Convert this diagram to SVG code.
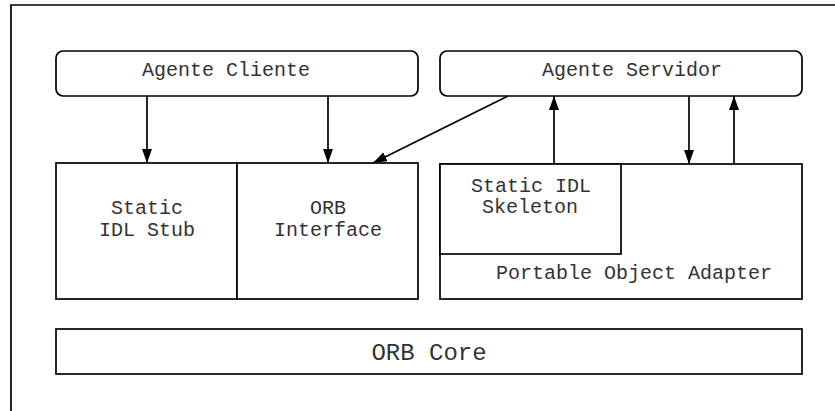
<svg xmlns="http://www.w3.org/2000/svg" width="835" height="411" viewBox="0 0 835 411">
<style>
.box{fill:#fff;stroke:#000;stroke-width:1.7}
.t{font-family:"Liberation Mono","Courier New",monospace;font-size:20px;fill:#333;text-anchor:middle}
.c{stroke:#000;stroke-width:1.7;fill:none}
</style>
<defs>
<marker id="ah2" viewBox="0 0 14 10" refX="14" refY="5" markerWidth="14" markerHeight="10" markerUnits="userSpaceOnUse" orient="auto">
<path d="M0,0 L14,5 L0,10 z" fill="#000"/>
</marker>
</defs>
<rect width="835" height="411" fill="#fff"/>
<path d="M11,411 V5 H835" class="c"/>
<g id="cliente"><rect class="box" x="56" y="51" width="362" height="45" rx="7"/><text class="t" x="226" y="76">Agente Cliente</text></g>
<g id="servidor"><rect class="box" x="440" y="51" width="362" height="45" rx="7"/><text class="t" x="632" y="76">Agente Servidor</text></g>
<g id="stub"><rect class="box" x="56" y="163" width="181" height="136"/><text class="t" x="147" y="214">Static</text><text class="t" x="147" y="236">IDL Stub</text></g>
<g id="orbif"><rect class="box" x="237" y="163" width="181" height="136"/><text class="t" x="328" y="214">ORB</text><text class="t" x="328" y="236">Interface</text></g>
<g id="poa"><rect class="box" x="440" y="164" width="362" height="135"/><text class="t" x="634" y="279">Portable Object Adapter</text></g>
<g id="skeleton"><rect class="box" x="440" y="164" width="181" height="90"/><text class="t" x="531" y="192">Static IDL</text><text class="t" x="530" y="213">Skeleton</text></g>
<g id="core"><rect class="box" x="56" y="329" width="746" height="45"/><text class="t" x="429" y="360" style="font-size:24px">ORB Core</text></g>
<g id="connectors">
<line class="c" x1="147" y1="96" x2="147" y2="163" marker-end="url(#ah2)"/>
<line class="c" x1="328" y1="96" x2="328" y2="163" marker-end="url(#ah2)"/>
<line class="c" x1="508" y1="96" x2="373" y2="163" marker-end="url(#ah2)"/>
<line class="c" x1="554" y1="164" x2="554" y2="96" marker-end="url(#ah2)"/>
<line class="c" x1="689" y1="96" x2="689" y2="164" marker-end="url(#ah2)"/>
<line class="c" x1="734" y1="164" x2="734" y2="96" marker-end="url(#ah2)"/>
</g>
</svg>
